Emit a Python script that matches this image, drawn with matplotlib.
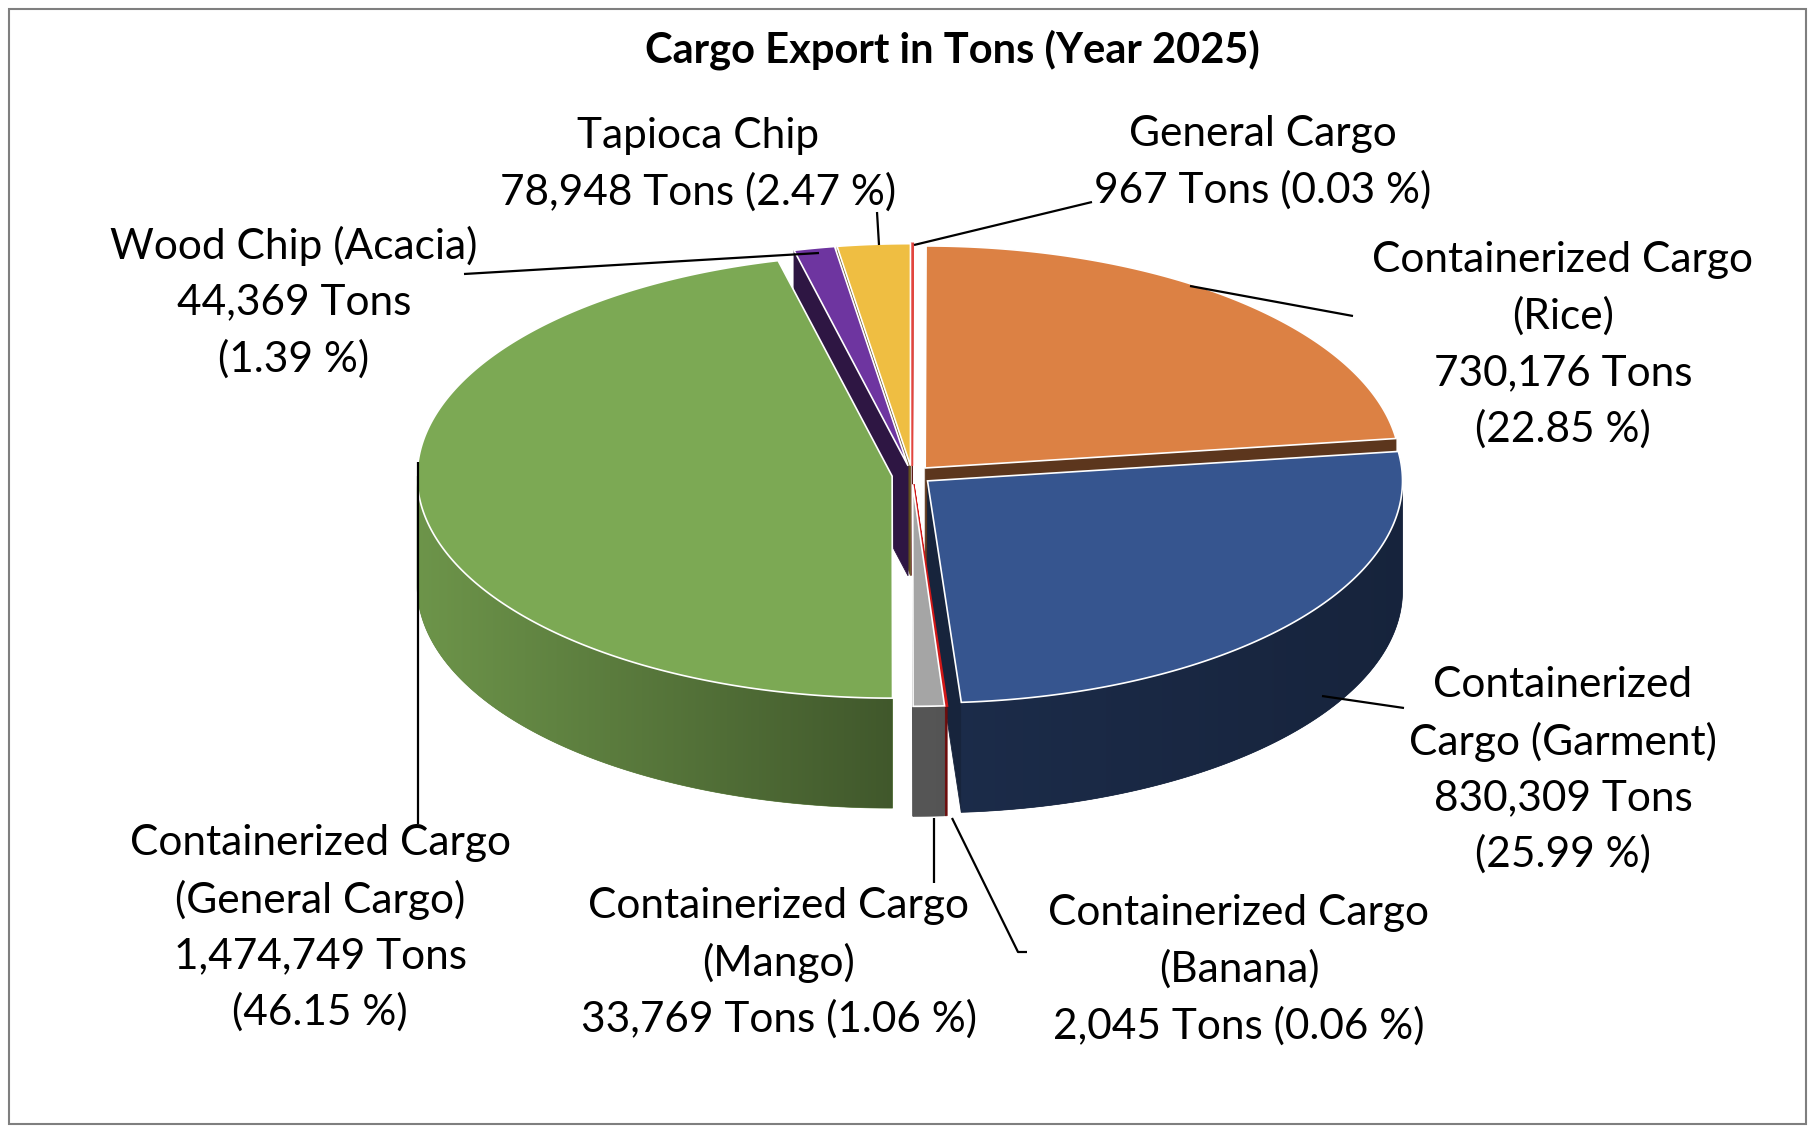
import numpy as np
import matplotlib.pyplot as plt
from matplotlib.patches import Polygon, Rectangle
from matplotlib.colors import to_rgb

plt.rcParams['font.family'] = ['Lato', 'DejaVu Sans']

# ---- data (clockwise from 12 o'clock, as in the Excel chart) ----
names = [
    ["General Cargo"],
    ["Containerized Cargo", "(Rice)"],
    ["Containerized", "Cargo (Garment)"],
    ["Containerized Cargo", "(Banana)"],
    ["Containerized Cargo", "(Mango)"],
    ["Containerized Cargo", "(General Cargo)"],
    ["Wood Chip (Acacia)"],
    ["Tapioca Chip"],
]
tons = [967, 730176, 830309, 2045, 33769, 1474749, 44369, 78948]
# True -> "xx Tons (p %)" on one line, False -> two lines
same_line = [True, False, False, True, True, False, False, True]
colors = ['#E2453F', '#DC8144', '#36558F', '#D01818',
          '#A5A5A5', '#7CA954', '#6E35A0', '#EFBE42']

title = "Cargo Export in Tons (Year 2025)"

# ---- layout (pixels, y down) ----
W, H = 1814, 1132
CX, CY = 912, 475
RX, RY = 475, 222
DEPTH = 110
EXPLODE = 20
K = RY / RX

label_pos = [(1263, 134), (1563, 260), (1563, 685), (1239, 913),
             (779, 906), (320, 843), (294, 246), (698, 136)]
line_gap = 56.5
leaders = [
    [(914, 245), (1092, 202)],
    [(1190, 286), (1353, 316)],
    [(1322, 696), (1404, 708)],
    [(952, 818), (1018, 952), (1027, 952)],
    [(934, 818), (934, 883)],
    [(418, 462), (418, 824)],
    [(819, 253), (464, 274)],
    [(879, 245), (877, 212)],
]

total = sum(tons)
fracs = np.array(tons) / total
edges = np.concatenate([[0], np.cumsum(fracs)]) * 360.0


def offset(beta):
    b = np.radians(beta)
    return EXPLODE * np.sin(b), -EXPLODE * K * np.cos(b)


def rim(phi, ox, oy, z=0.0):
    p = np.radians(phi)
    return np.column_stack([CX + ox + RX * np.sin(p),
                            CY + oy - RY * np.cos(p) + z])


def shade(c, f):
    r, g, b = to_rgb(c)
    return (r * f, g * f, b * f)


def side_factor(s):
    # s = -sin(phi): 1 at the left edge, 0 at the front, -1 at the right
    return np.where(s > 0, 0.52 + 0.36 * s, 0.52 + 0.10 * s)


fig = plt.figure(figsize=(W / 100, H / 100), dpi=100)
ax = fig.add_axes([0, 0, 1, 1])

slices = []
for i in range(len(tons)):
    a1, a2 = edges[i], edges[i + 1]
    ox, oy = offset((a1 + a2) / 2)
    slices.append((a1, a2, ox, oy))

# radial (cut) faces, back to front
faces = []
for i, (a1, a2, ox, oy) in enumerate(slices):
    if np.sin(np.radians(a1)) < -1e-6:
        faces.append((i, a1))
    if np.sin(np.radians(a2)) > 1e-6:
        faces.append((i, a2))
faces.sort(key=lambda f: -np.cos(np.radians(f[1])))
for i, phi in faces:
    a1, a2, ox, oy = slices[i]
    apex = np.array([CX + ox, CY + oy])
    top = rim([phi], ox, oy)[0]
    pts = [apex, top, top + [0, DEPTH], apex + [0, DEPTH]]
    c = shade(colors[i], 0.42)
    ax.add_patch(Polygon(pts, closed=True, fc=c, ec=c, lw=0.6, zorder=1))

# outer curved sides (front half only), gradient shaded by angle
for i, (a1, a2, ox, oy) in enumerate(slices):
    lo, hi = max(a1, 90), min(a2, 270)
    if hi <= lo:
        continue
    ph = np.linspace(lo, hi, int((hi - lo) * 4) + 2)
    pts = np.vstack([rim(ph, ox, oy), rim(ph[::-1], ox, oy, DEPTH)])
    x0, x1 = pts[:, 0].min(), pts[:, 0].max()
    y0, y1 = pts[:, 1].min(), pts[:, 1].max()
    s_mid = -np.sin(np.radians((lo + hi) / 2))
    base = shade(colors[i], float(side_factor(s_mid)))
    patch = Polygon(pts, closed=True, fc=base, ec=base, lw=0.5, zorder=2)
    ax.add_patch(patch)
    if x1 - x0 > 3:
        xs = np.linspace(x0, x1, max(int(x1 - x0), 2))
        s = -np.clip((xs - CX - ox) / RX, -1, 1)
        f = side_factor(s)
        img = np.array(to_rgb(colors[i]))[None, None, :] * f[None, :, None]
        im = ax.imshow(img, extent=[x0, x1, y1, y0], aspect='auto',
                       interpolation='bilinear', zorder=2.1)
        im.set_clip_path(patch)

# top faces
for i, (a1, a2, ox, oy) in enumerate(slices):
    n = max(2, int((a2 - a1) * 2))
    arc = rim(np.linspace(a1, a2, n + 1), ox, oy)
    pts = np.vstack([[CX + ox, CY + oy], arc])
    big = fracs[i] > 0.005
    ax.add_patch(Polygon(pts, closed=True, fc=colors[i],
                         ec='white' if big else colors[i],
                         lw=1.2 if big else 1.6, zorder=3))

# leader lines
for pts in leaders:
    xs, ys = zip(*pts)
    ax.plot(xs, ys, color='black', lw=1.6, zorder=4, solid_capstyle='butt')

# data labels
for i in range(len(tons)):
    pct = fracs[i] * 100
    val = [f"{tons[i]:,} Tons", f"({pct:.2f} %)"]
    lines = names[i] + ([" ".join(val)] if same_line[i] else val)
    x, y = label_pos[i]
    for j, ln in enumerate(lines):
        ax.text(x, y + j * line_gap, ln, ha='center', va='center',
                fontsize=30.5, color='black', zorder=5)

ax.text(952, 50, title, ha='center', va='center', fontsize=30,
        fontweight='bold', color='black')

ax.add_patch(Rectangle((9, 9), 1797, 1115, fill=False, ec='#7f7f7f',
                       lw=1.5, zorder=6))

ax.set_xlim(0, W)
ax.set_ylim(H, 0)
ax.set_aspect('auto')
ax.axis('off')

fig.savefig('out.png', dpi=100)
